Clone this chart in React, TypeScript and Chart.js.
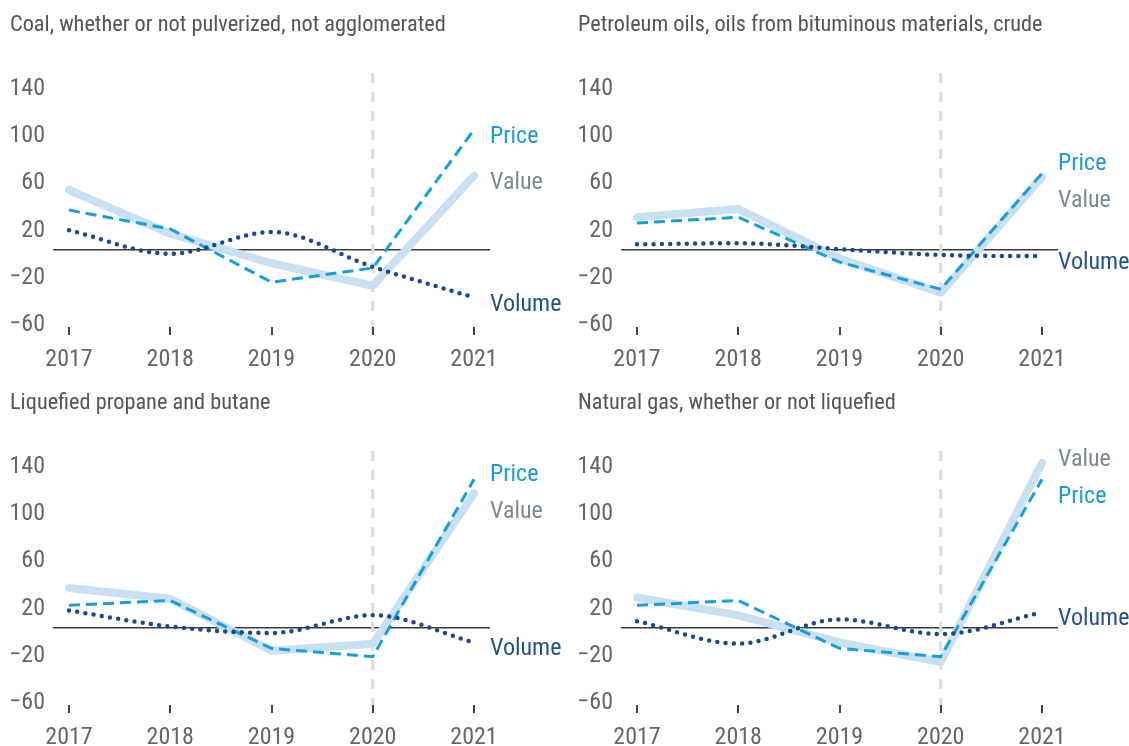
import React, { useEffect, useRef } from "react";
import { Chart, registerables } from "chart.js";

Chart.register(...registerables);

const FONT = "'Roboto Condensed', 'Roboto', sans-serif";
const STRETCH = "condensed";

// ---- data ----
const years = [2017, 2018, 2019, 2020, 2021];
const yearLabels = ["2017", "2018", "2019", "2020", "2021"];
const yTickValues = [-60, -20, 0, 20, 60, 100, 140];
const dividerYear = 2020;
const seriesNames = ["Value", "Price", "Volume"];

const coalTitle = "Coal, whether or not pulverized, not agglomerated";
const coalValue = [51, 14, -11, -30, 63];
const coalPrice = [34, 18, -27, -15, 102];
const coalVolume = [17, -3, 15.5, -14, -40];

const petroTitle = "Petroleum oils, oils from bituminous materials, crude";
const petroValue = [28, 35, -7, -36, 62];
const petroPrice = [23, 28, -10, -33, 65];
const petroVolume = [5, 6, 1, -4, -5];

const propaneTitle = "Liquefied propane and butane";
const propaneValue = [34, 25, -19, -13, 114];
const propanePrice = [19.5, 23.5, -17, -24, 126];
const propaneVolume = [15, 1.5, -4, 11, -12];

const gasTitle = "Natural gas, whether or not liquefied";
const gasValue = [26, 11, -12, -28.5, 140];
const gasPrice = [19.5, 23.5, -17, -24, 126];
const gasVolume = [6, -13, 7.5, -5, 13.5];

const formatTick = (v: number) => (v < 0 ? "\u2212" + Math.abs(v) : String(v));

const dividerPlugin = {
  id: "divider",
  beforeDatasetsDraw(chart: any) {
    const { ctx, chartArea, scales } = chart;
    const x = scales.x.getPixelForValue(dividerYear);
    ctx.save();
    ctx.strokeStyle = "#dcdcdc";
    ctx.lineWidth = 3;
    ctx.setLineDash([10, 9]);
    ctx.beginPath();
    ctx.moveTo(x, chartArea.top);
    ctx.lineTo(x, chartArea.bottom);
    ctx.stroke();
    ctx.restore();
  },
};

const tickMarkPlugin = {
  id: "tickMarks",
  afterDatasetsDraw(chart: any) {
    const { ctx, chartArea, scales } = chart;
    ctx.save();
    ctx.strokeStyle = "#444";
    ctx.lineWidth = 2;
    years.forEach((yr) => {
      const x = Math.round(scales.x.getPixelForValue(yr));
      ctx.beginPath();
      ctx.moveTo(x, chartArea.bottom - 6);
      ctx.lineTo(x, chartArea.bottom + 2);
      ctx.stroke();
    });
    ctx.restore();
  },
};

const endLabelPlugin = {
  id: "endLabels",
  afterDatasetsDraw(chart: any) {
    const { ctx, chartArea } = chart;
    const items = chart.data.datasets.map((ds: any, i: number) => {
      const meta = chart.getDatasetMeta(i);
      const last = meta.data[meta.data.length - 1];
      return { text: ds.label, color: ds.labelColor, y: last.y + 7 };
    });
    items.sort((a: any, b: any) => a.y - b.y);
    const gap = 37;
    const groups: any[] = items.map((it: any) => ({ items: [it], center: it.y }));
    let changed = true;
    while (changed) {
      changed = false;
      for (let i = 0; i < groups.length - 1; i++) {
        const a = groups[i];
        const b = groups[i + 1];
        const aBottom = a.center + ((a.items.length - 1) * gap) / 2;
        const bTop = b.center - ((b.items.length - 1) * gap) / 2;
        if (bTop - aBottom < gap) {
          const all = a.items.concat(b.items);
          const center = all.reduce((s: number, it: any) => s + it.y, 0) / all.length;
          groups.splice(i, 2, { items: all, center });
          changed = true;
          break;
        }
      }
    }
    ctx.save();
    ctx.font = `${STRETCH} 24px ${FONT}`;
    ctx.textBaseline = "middle";
    ctx.textAlign = "left";
    groups.forEach((g) =>
      g.items.forEach((it: any, k: number) => {
        const y = g.center + (k - (g.items.length - 1) / 2) * gap;
        ctx.fillStyle = it.color;
        ctx.fillText(it.text, chartArea.right, y);
      })
    );
    ctx.restore();
  },
};

const toPoints = (vals: number[]) => years.map((x, i) => ({ x, y: vals[i] }));

type PanelProps = {
  title: string;
  value: number[];
  price: number[];
  volume: number[];
  left: number;
  top: number;
};

const W = 561;
const H = 368;

function Panel({ title, value, price, volume, left, top }: PanelProps) {
  const ref = useRef<HTMLCanvasElement | null>(null);
  useEffect(() => {
    if (!ref.current) return;
    const chart = new Chart(ref.current, {
      type: "line",
      data: {
        datasets: [
          {
            label: seriesNames[0],
            data: toPoints(value),
            borderColor: "#c8e0f1",
            borderWidth: 8,
            borderCapStyle: "round",
            borderJoinStyle: "round",
            pointRadius: 0,
            order: 2,
            labelColor: "#7b8a98",
          } as any,
          {
            label: seriesNames[1],
            data: toPoints(price),
            borderColor: "#14a0dc",
            borderWidth: 3,
            borderDash: [11, 6],
            pointRadius: 0,
            order: 1,
            labelColor: "#1a9ad6",
          } as any,
          {
            label: seriesNames[2],
            data: toPoints(volume),
            borderColor: "#1b4a8c",
            borderWidth: 4.5,
            borderDash: [0, 8.3],
            borderCapStyle: "round",
            cubicInterpolationMode: "monotone",
            pointRadius: 0,
            order: 0,
            labelColor: "#26518f",
          } as any,
        ],
      },
      options: {
        responsive: false,
        animation: false,
        events: [],
        layout: { padding: { top: 73, right: W - 490, bottom: 0, left: 8 } },
        plugins: { legend: { display: false }, tooltip: { enabled: false }, title: { display: false } },
        scales: {
          x: {
            type: "linear",
            min: 2016.842,
            max: 2021.158,
            afterBuildTicks: (s: any) => {
              s.ticks = years.map((v) => ({ value: v }));
            },
            afterFit: (s: any) => {
              s.height = 35;
            },
            grid: { display: false, drawTicks: false },
            border: { display: false },
            ticks: {
              padding: 13,
              color: "#666",
              font: { size: 24, family: FONT, style: STRETCH },
              maxRotation: 0,
              autoSkip: false,
              callback: (v: any) => {
                const i = years.indexOf(Number(v));
                return i >= 0 ? yearLabels[i] : "";
              },
            },
          },
          y: {
            type: "linear",
            min: -70,
            max: 150,
            afterBuildTicks: (s: any) => {
              s.ticks = yTickValues.map((v) => ({ value: v }));
            },
            afterFit: (s: any) => {
              s.width = 45;
            },
            grid: {
              drawTicks: false,
              lineWidth: 1.6,
              color: (c: any) => (c.tick && c.tick.value === 0 ? "#3a3a3a" : "rgba(0,0,0,0)"),
            },
            border: { display: false },
            ticks: {
              padding: 8,
              labelOffset: 4,
              color: "#666",
              font: { size: 24, family: FONT, style: STRETCH },
              autoSkip: false,
              callback: (v: any) => (Number(v) === 0 ? "" : formatTick(Number(v))),
            },
          },
        },
      } as any,
      plugins: [dividerPlugin, tickMarkPlugin, endLabelPlugin],
    });
    return () => chart.destroy();
  }, []);
  return (
    <div style={{ position: "absolute", left, top, width: W, height: H }}>
      <canvas ref={ref} width={W} height={H} style={{ position: "absolute", left: 0, top: 0, width: W, height: H }} />
      <div
        style={{
          position: "absolute",
          left: 10,
          top: 12,
          fontFamily: FONT,
          fontStretch: STRETCH,
          fontSize: 22.3,
          lineHeight: "23px",
          color: "#555",
          whiteSpace: "nowrap",
        }}
      >
        {title}
      </div>
    </div>
  );
}

export default function App() {
  return (
    <div
      style={{
        position: "absolute",
        left: 0,
        top: 0,
        width: 1129,
        height: 746,
        overflow: "hidden",
        background: "#fff",
      }}
    >
      <Panel title={coalTitle} value={coalValue} price={coalPrice} volume={coalVolume} left={0} top={0} />
      <Panel title={petroTitle} value={petroValue} price={petroPrice} volume={petroVolume} left={568} top={0} />
      <Panel title={propaneTitle} value={propaneValue} price={propanePrice} volume={propaneVolume} left={0} top={378} />
      <Panel title={gasTitle} value={gasValue} price={gasPrice} volume={gasVolume} left={568} top={378} />
    </div>
  );
}
